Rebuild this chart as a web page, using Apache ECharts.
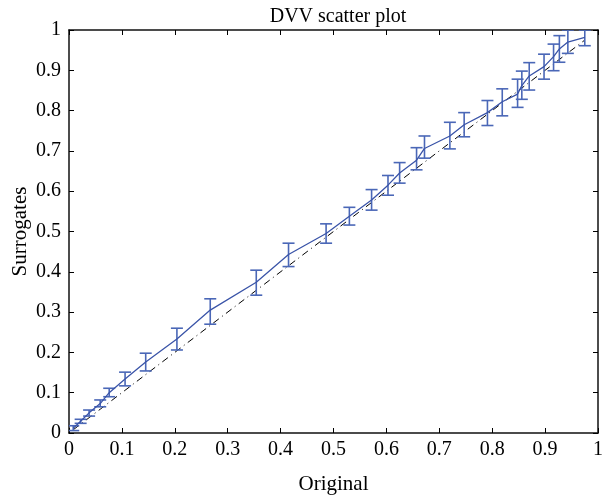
<!DOCTYPE html>
<html>
<head>
<meta charset="utf-8">
<script src="https://cdn.jsdelivr.net/npm/echarts@6/dist/echarts.min.js"></script>
<style>
  html, body { margin: 0; padding: 0; background: #fff; }
  #dvvChart { width: 602px; height: 496px; }
</style>
</head>
<body>
<div id="dvvChart"></div>
<script>
// values
var original   = [0.008, 0.022, 0.038, 0.059, 0.076, 0.106, 0.145, 0.204, 0.267, 0.354, 0.415, 0.486, 0.530, 0.572, 0.603, 0.625, 0.657, 0.672, 0.720, 0.747, 0.791, 0.819, 0.848, 0.856, 0.870, 0.898, 0.916, 0.927, 0.943, 0.975];
var surrogates = [0.012, 0.029, 0.050, 0.073, 0.100, 0.134, 0.176, 0.233, 0.305, 0.374, 0.443, 0.495, 0.538, 0.578, 0.615, 0.645, 0.677, 0.706, 0.737, 0.765, 0.795, 0.822, 0.841, 0.862, 0.886, 0.909, 0.934, 0.953, 0.970, 0.982];
var errLow     = [0.006, 0.024, 0.042, 0.065, 0.090, 0.117, 0.154, 0.206, 0.270, 0.342, 0.413, 0.471, 0.516, 0.553, 0.590, 0.620, 0.653, 0.682, 0.705, 0.735, 0.763, 0.787, 0.808, 0.828, 0.851, 0.878, 0.899, 0.920, 0.942, 0.961];
var errHigh    = [0.018, 0.034, 0.057, 0.082, 0.111, 0.151, 0.198, 0.260, 0.333, 0.404, 0.471, 0.519, 0.560, 0.604, 0.639, 0.671, 0.708, 0.737, 0.771, 0.795, 0.825, 0.854, 0.878, 0.898, 0.919, 0.940, 0.965, 0.986, 1.000, 1.000];
var tickLabels = ['0', '0.1', '0.2', '0.3', '0.4', '0.5', '0.6', '0.7', '0.8', '0.9', '1'];

var font = 'Liberation Serif';
var lineData = original.map(function (x, i) { return [x, surrogates[i]]; });
var diagData = original.map(function (x) { return [x, x]; });
var errData = original.map(function (x, i) { return [x, errLow[i], errHigh[i]]; });

function fmt(v) {
  var s = tickLabels[Math.round(v * 10)];
  return s === undefined ? '' : s;
}

var myChart = echarts.init(document.getElementById('dvvChart'));

var tickStyle = { show: true, inside: true, length: 5, lineStyle: { color: '#000', width: 1 } };
var lineAxis = { show: true, onZero: false, lineStyle: { color: '#111', width: 1.5 } };

var option = {
  animation: false,
  backgroundColor: '#fff',
  title: {
    text: 'DVV scatter plot',
    left: 333,
    textAlign: 'center',
    top: 2,
    textStyle: { fontFamily: font, fontSize: 20, fontWeight: 'normal', color: '#000' }
  },
  grid: { left: 69, right: 4, top: 30, bottom: 63, containLabel: false, outerBoundsMode: 'none' },
  xAxis: [
    {
      type: 'value', min: 0, max: 1, interval: 0.1,
      name: 'Original', nameLocation: 'middle', nameGap: 41, nameMoveOverlap: false,
      nameTextStyle: { fontFamily: font, fontSize: 21, color: '#000' },
      axisLine: lineAxis, axisTick: tickStyle,
      axisLabel: { fontFamily: font, fontSize: 20, color: '#000', margin: 7, formatter: fmt },
      splitLine: { show: false }
    },
    {
      type: 'value', min: 0, max: 1, interval: 0.1, position: 'top',
      axisLine: lineAxis, axisTick: tickStyle, axisLabel: { show: false }, splitLine: { show: false }
    }
  ],
  yAxis: [
    {
      type: 'value', min: 0, max: 1, interval: 0.1,
      name: 'Surrogates', nameLocation: 'middle', nameGap: 38, nameRotate: 90, nameMoveOverlap: false,
      nameTextStyle: { fontFamily: font, fontSize: 21, color: '#000' },
      axisLine: lineAxis, axisTick: tickStyle,
      axisLabel: { fontFamily: font, fontSize: 20, color: '#000', margin: 8, formatter: fmt },
      splitLine: { show: false }
    },
    {
      type: 'value', min: 0, max: 1, interval: 0.1, position: 'right',
      axisLine: lineAxis, axisTick: tickStyle, axisLabel: { show: false }, splitLine: { show: false }
    }
  ],
  series: [
    {
      type: 'line',
      data: diagData,
      symbol: 'none',
      lineStyle: { color: '#000', width: 1, type: [7, 4, 1, 4] },
      z: 1
    },
    {
      type: 'line',
      data: lineData,
      symbol: 'none',
      lineStyle: { color: '#3a54a8', width: 1.3 },
      z: 3
    },
    {
      type: 'custom',
      data: errData,
      clip: true,
      z: 2,
      renderItem: function (params, api) {
        var x = api.value(0);
        var lo = api.coord([x, api.value(1)]);
        var hi = api.coord([x, api.value(2)]);
        var w = 6;
        var st = { stroke: '#4a67b7', lineWidth: 1.6 };
        return {
          type: 'group',
          children: [
            { type: 'line', shape: { x1: lo[0], y1: lo[1], x2: hi[0], y2: hi[1] }, style: st },
            { type: 'line', shape: { x1: lo[0] - w, y1: lo[1], x2: lo[0] + w, y2: lo[1] }, style: st },
            { type: 'line', shape: { x1: hi[0] - w, y1: hi[1], x2: hi[0] + w, y2: hi[1] }, style: st }
          ]
        };
      }
    }
  ]
};

myChart.clear();
myChart.setOption(option);
</script>
</body>
</html>
